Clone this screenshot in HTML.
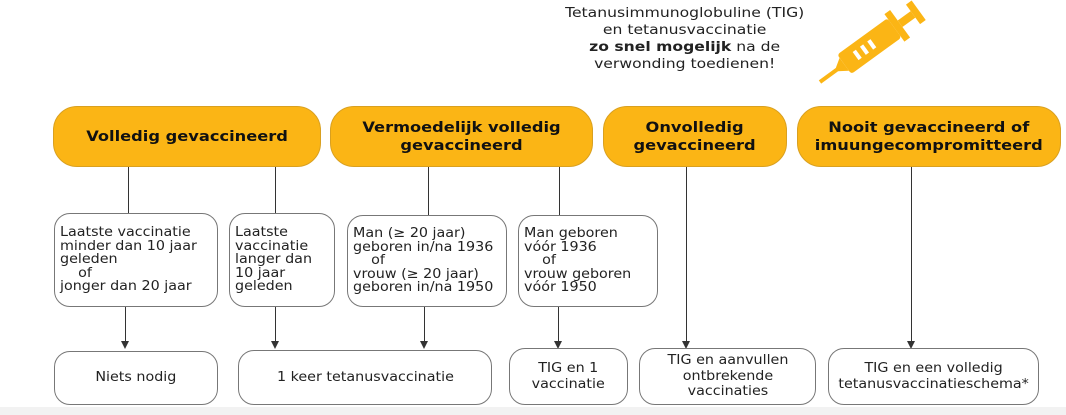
<!DOCTYPE html>
<html><head><meta charset="utf-8"><style>
body{margin:0;width:1066px;height:415px;background:#fff;position:relative;overflow:hidden;font-family:"DejaVu Sans","Liberation Sans",sans-serif;}
.b{position:absolute;box-sizing:border-box;display:flex;align-items:center;justify-content:center;text-align:center}
.y{background:#fbb515;border:1px solid #d9a020;border-radius:24px;font-weight:bold;font-size:14.5px;line-height:18px;color:#111}
.y span{display:inline-block;transform:scaleX(1.12)}
.w{border:1px solid #777;border-radius:16px;font-size:13px;line-height:13.5px;color:#222}
.w span{display:inline-block;transform:scaleX(1.1)}
.bt{line-height:15.5px}
.l{justify-content:flex-start;text-align:left;padding-left:5px}
.l span{transform-origin:left center}
.v{position:absolute;width:1px;background:#333}
.a{position:absolute;width:0;height:0;border-left:4px solid transparent;border-right:4px solid transparent;border-top:8px solid #333}
</style></head><body>
<div style="position:absolute;left:525px;top:5px;width:320px;text-align:center;font-size:13px;line-height:17px;color:#222"><span style="display:inline-block;transform:scaleX(1.2)">Tetanusimmunoglobuline (TIG)<br>en tetanusvaccinatie<br><b>zo snel mogelijk</b> na de<br>verwonding toedienen!</span></div>
<svg style="position:absolute;left:815px;top:0" width="120" height="85" viewBox="0 0 120 85">
<g transform="translate(60,42) rotate(-36)" fill="#fbb515">
<rect x="-38" y="-12" width="62" height="24" rx="3"/>
<rect x="24" y="-17" width="7" height="34"/>
<rect x="31" y="-4" width="16" height="8"/>
<rect x="47" y="-12" width="7" height="24"/>
<polygon points="-38,-8 -50,0 -38,8"/>
<rect x="-68" y="-2" width="22" height="4"/>
<rect x="-24" y="-5" width="4" height="10" fill="#fff"/><rect x="-15" y="-5" width="4" height="10" fill="#fff"/><rect x="-6" y="-5" width="4" height="10" fill="#fff"/>
</g></svg>
<div class="b y" style="left:53px;top:106px;width:268px;height:61px"><span>Volledig gevaccineerd</span></div>
<div class="b y" style="left:330px;top:106px;width:263px;height:61px"><span>Vermoedelijk volledig<br>gevaccineerd</span></div>
<div class="b y" style="left:603px;top:106px;width:184px;height:61px"><span>Onvolledig<br>gevaccineerd</span></div>
<div class="b y" style="left:797px;top:106px;width:264px;height:61px"><span>Nooit gevaccineerd of<br>imuungecompromitteerd</span></div>
<div class="v" style="left:128px;top:167px;height:46px"></div>
<div class="v" style="left:275px;top:167px;height:46px"></div>
<div class="v" style="left:428px;top:167px;height:48px"></div>
<div class="v" style="left:559px;top:167px;height:48px"></div>
<div class="v" style="left:686px;top:167px;height:176px"></div><div class="a" style="left:682px;top:341px"></div>
<div class="v" style="left:911px;top:167px;height:176px"></div><div class="a" style="left:907px;top:341px"></div>
<div class="b w l" style="left:54px;top:213px;width:164px;height:94px"><span>Laatste vaccinatie<br>minder dan 10 jaar<br>geleden<br>&nbsp;&nbsp;&nbsp;&nbsp;of<br>jonger dan 20 jaar</span></div>
<div class="b w l" style="left:229px;top:213px;width:106px;height:94px"><span>Laatste<br>vaccinatie<br>langer dan<br>10 jaar<br>geleden</span></div>
<div class="b w l" style="left:347px;top:215px;width:160px;height:92px"><span>Man (≥ 20 jaar)<br>geboren in/na 1936<br>&nbsp;&nbsp;&nbsp;&nbsp;of<br>vrouw (≥ 20 jaar)<br>geboren in/na 1950</span></div>
<div class="b w l" style="left:518px;top:215px;width:140px;height:92px"><span>Man geboren<br>vóór 1936<br>&nbsp;&nbsp;&nbsp;&nbsp;of<br>vrouw geboren<br>vóór 1950</span></div>
<div class="v" style="left:125px;top:307px;height:36px"></div><div class="a" style="left:121px;top:341px"></div>
<div class="v" style="left:275px;top:307px;height:36px"></div><div class="a" style="left:271px;top:341px"></div>
<div class="v" style="left:424px;top:307px;height:36px"></div><div class="a" style="left:420px;top:341px"></div>
<div class="v" style="left:558px;top:307px;height:36px"></div><div class="a" style="left:554px;top:341px"></div>
<div class="b w bt" style="left:54px;top:351px;width:164px;height:54px"><span>Niets nodig</span></div>
<div class="b w bt" style="left:238px;top:350px;width:254px;height:55px"><span>1 keer tetanusvaccinatie</span></div>
<div class="b w bt" style="left:509px;top:348px;width:119px;height:57px"><span>TIG en 1<br>vaccinatie</span></div>
<div class="b w bt" style="left:639px;top:348px;width:177px;height:57px"><span>TIG en aanvullen<br>ontbrekende<br>vaccinaties</span></div>
<div class="b w bt" style="left:828px;top:348px;width:211px;height:57px"><span>TIG en een volledig<br>tetanusvaccinatieschema*</span></div>
<div style="position:absolute;left:0;top:407px;width:1066px;height:8px;background:#f2f2f2"></div>
</body></html>
